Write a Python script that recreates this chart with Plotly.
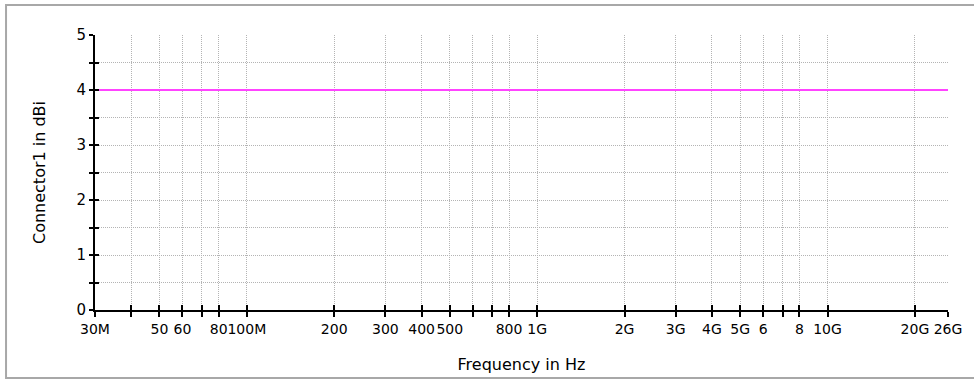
import plotly.graph_objects as go
import math

# Data
freq_hz = [30e6, 100e6, 1e9, 10e9, 26e9]
gain_dbi = [4, 4, 4, 4, 4]

x_tickvals = [30e6, 40e6, 50e6, 60e6, 70e6, 80e6, 100e6,
              200e6, 300e6, 400e6, 500e6, 600e6, 700e6, 800e6, 1e9,
              2e9, 3e9, 4e9, 5e9, 6e9, 7e9, 8e9, 10e9, 20e9, 26e9]
x_ticktext = ["30M", "", "50", "60", "", "80", "100M",
              "200", "300", "400", "500", "", "", "800", "1G",
              "2G", "3G", "4G", "5G", "6", "", "8", "10G", "20G", "26G"]
y_tickvals = [0, 0.5, 1, 1.5, 2, 2.5, 3, 3.5, 4, 4.5, 5]
y_ticktext = ["0", "", "1", "", "2", "", "3", "", "4", "", "5"]

x_range = [math.log10(freq_hz[0]) - 1e-6, math.log10(freq_hz[-1]) + 1e-6]
y_range = [0, 5.0001]

FONT = "DejaVu Sans"
GRID = "#b4b4b4"

fig = go.Figure()
# transparent copy to carry the inner tick axes
fig.add_trace(go.Scatter(x=freq_hz, y=gain_dbi, xaxis="x2", yaxis="y2", mode="lines",
                         line=dict(color="rgba(0,0,0,0)", width=0), hoverinfo="skip",
                         showlegend=False))
fig.add_trace(go.Scatter(x=freq_hz, y=gain_dbi, mode="lines",
                         line=dict(color="#ff44ff", width=2), showlegend=False))

common_x = dict(type="log", range=x_range, tickvals=x_tickvals, automargin=False)
common_y = dict(range=y_range, tickvals=y_tickvals, automargin=False)

fig.update_layout(
    width=974, height=379,
    margin=dict(l=95, r=26, t=35, b=69),
    paper_bgcolor="white", plot_bgcolor="white",
    font=dict(family=FONT, size=14, color="black"),
    xaxis=dict(**common_x, ticktext=x_ticktext, ticks="outside", ticklen=5, tickwidth=2,
               tickcolor="black", showline=True, linewidth=2, linecolor="black",
               showgrid=True, gridcolor=GRID, griddash="1px,1px", gridwidth=1,
               zeroline=False, tickangle=0, tickfont=dict(family=FONT, size=14),
               title=dict(text="Frequency in Hz", font=dict(family=FONT, size=16), standoff=23)),
    yaxis=dict(**common_y, ticktext=y_ticktext, ticks="outside", ticklen=4, tickwidth=2,
               tickcolor="black", showline=True, linewidth=2, linecolor="black",
               showgrid=True, gridcolor=GRID, griddash="1px,1px", gridwidth=1,
               zeroline=False, tickfont=dict(family=FONT, size=15),
               title=dict(text="Connector1 in dBi", font=dict(family=FONT, size=16), standoff=27)),
    xaxis2=dict(**common_x, overlaying="x", side="bottom", ticks="inside", ticklen=5,
                tickwidth=2, tickcolor="black", showticklabels=False, showgrid=False,
                showline=False, zeroline=False),
    yaxis2=dict(**common_y, overlaying="y", side="left", ticks="inside", ticklen=4,
                tickwidth=2, tickcolor="black", showticklabels=False, showgrid=False,
                showline=False, zeroline=False),
    shapes=[dict(type="rect", xref="paper", yref="paper",
                 x0=-0.1043, x1=1.2, y0=-0.2473, y1=1.109,
                 line=dict(color="#a8a8a8", width=2), layer="below")],
)

fig.write_html("out.html", config={"displayModeBar": False},
               post_script="document.body.style.margin='0';document.body.style.overflow='hidden';")
